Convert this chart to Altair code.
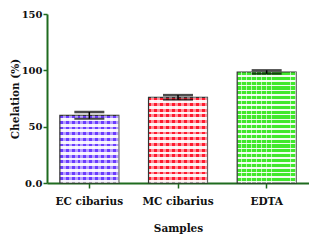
import altair as alt
import pandas as pd

samples = ["EC cibarius", "MC cibarius", "EDTA"]
values = [60, 76, 98.5]
errors = [3, 2, 1.5]
colors = ["#6b3cff", "#ff1a2e", "#40e82c"]

df = pd.DataFrame({
    "Sample": samples,
    "Chelation": values,
    "lo": [v - e for v, e in zip(values, errors)],
    "hi": [v + e for v, e in zip(values, errors)],
})

AXIS_COLOR = "#1f6b1f"
FONT = "DejaVu Serif"


def stripes(n, a, b, frac, vertical):
    stops = []
    for i in range(n):
        s = i / n
        m = (i + frac) / n
        e = (i + 1) / n
        stops += [
            {"offset": s, "color": a},
            {"offset": m, "color": a},
            {"offset": m, "color": b},
            {"offset": e, "color": b},
        ]
    g = {"gradient": "linear", "stops": stops}
    if vertical:
        g.update({"x1": 0, "y1": 0, "x2": 1, "y2": 0})
    else:
        g.update({"x1": 0, "y1": 0, "x2": 0, "y2": 1})
    return g


x_enc = alt.X(
    "Sample:N",
    sort=samples,
    title="Samples",
    scale=alt.Scale(paddingInner=0.335, paddingOuter=0.145),
    axis=alt.Axis(labelAngle=0, tickSize=5, titlePadding=17, labelPadding=8),
)
y_scale = alt.Scale(domain=[0, 150], nice=False, zero=True)
y_enc = alt.Y(
    "Chelation:Q",
    title="Chelation (%)",
    scale=y_scale,
    axis=alt.Axis(values=[0, 50, 100, 150], tickSize=4, grid=False,
                  labelExpr="datum.value == 0 ? '0.0' : datum.label",
                  labelPadding=1, labelFontSize=10, titlePadding=1),
)

specs = [
    (12, 10, colors[0]),
    (15, 10, colors[1]),
    (23, 6, colors[2]),
]

layers = []
for (nh, nv, c), name in zip(specs, samples):
    base = alt.Chart(df).transform_filter(alt.datum.Sample == name)
    if name == "EDTA":
        fill_h = stripes(nh, c, "#f0fff0", 0.65, False)
        fill_v = stripes(nv * 2, "rgba(255,255,255,0)", "rgba(255,255,255,0.6)", 0.85, True)
    else:
        fill_h = stripes(nh, c, "#f4eeff" if name.startswith("EC") else "#fff0f0", 0.5, False)
        fill_v = stripes(nv, "rgba(255,255,255,0)", "rgba(255,255,255,0.5)", 0.5, True)
    layers.append(base.mark_bar(fill=fill_h, stroke="#333333", strokeWidth=1.2).encode(x=x_enc, y=y_enc))
    layers.append(base.mark_bar(fill=fill_v).encode(x=x_enc, y=y_enc))

err = alt.Chart(df).mark_rule(color="black", strokeWidth=1.5).encode(
    x=x_enc, y=alt.Y("lo:Q", scale=y_scale), y2="hi:Q")
cap_hi = alt.Chart(df).mark_tick(color="black", thickness=2.5, size=30).encode(
    x=x_enc, y=alt.Y("hi:Q", scale=y_scale))
cap_lo = alt.Chart(df).mark_tick(color="black", thickness=2, size=30).encode(
    x=x_enc, y=alt.Y("lo:Q", scale=y_scale))

chart = alt.layer(*layers, err, cap_hi, cap_lo).properties(
    width=262, height=169,
    padding={"left": 39, "top": 6, "right": 0, "bottom": 54},
    autosize=alt.AutoSizeParams(type="none"),
).configure_view(stroke=None).configure_axis(
    domainColor=AXIS_COLOR, domainWidth=2, tickColor=AXIS_COLOR, tickWidth=1.5,
    labelFont=FONT, labelFontWeight="bold", labelFontSize=10.5, labelColor="#111111",
    titleFont=FONT, titleFontWeight="bold", titleFontSize=10.5, titleColor="#111111",
)

chart.save("out.html", embed_options={"renderer": "svg", "actions": False})
